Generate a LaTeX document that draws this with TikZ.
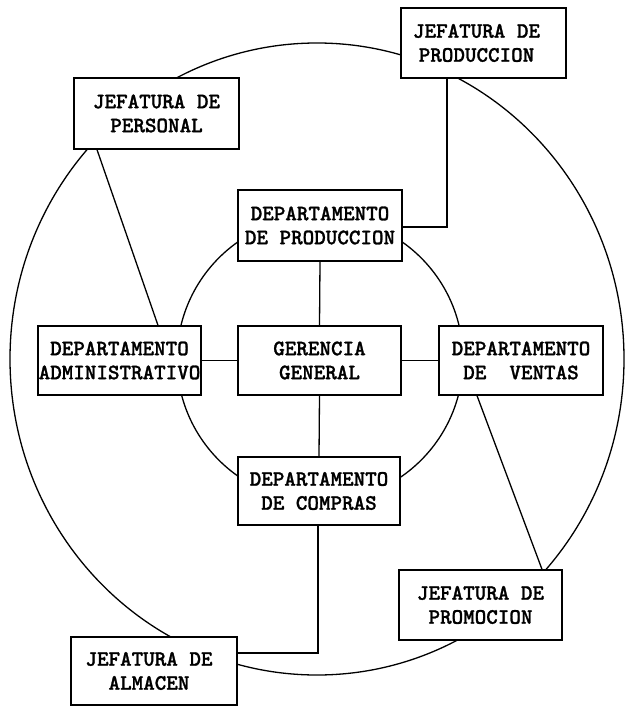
\documentclass[tikz,border=0pt]{standalone}
\usepackage{fontspec}
\newfontfamily\boxfont[FakeBold=1.2]{lmmonolt10-bold.otf}
\begin{document}
\begin{tikzpicture}[x=1pt,y=-1pt,
  box/.style={draw, line width=1.3pt, fill=white, inner sep=0pt, align=center,
    font=\boxfont\fontsize{22}{24}\selectfont},
  link/.style={line width=1.3pt},
  ring/.style={line width=1.3pt}]
\useasboundingbox (0,0) rectangle (624,706);

% the two rings
\draw[ring] (317,359) ellipse [x radius=307pt, y radius=316pt];
\draw[ring] (320,359) circle [radius=143pt];

% offices
\node[box, minimum width=165pt, minimum height=70pt] (jprod) at (483.5,43) {JEFATURA DE\hspace*{14pt}\\PRODUCCION\hspace*{14pt}};
\node[box, minimum width=165pt, minimum height=71pt] (jpers) at (156.5,113.5) {JEFATURA DE\\PERSONAL};
\node[box, minimum width=164pt, minimum height=71pt] (dprod) at (320,225.5) {DEPARTAMENTO\\DE PRODUCCION};
\node[box, minimum width=163pt, minimum height=69pt] (dadm) at (119.5,360.5) {DEPARTAMENTO\\ADMINISTRATIVO};
\node[box, minimum width=163pt, minimum height=69pt] (ger) at (319.5,360.5) {GERENCIA\\GENERAL};
\node[box, minimum width=164pt, minimum height=69pt] (dven) at (521,360.5) {DEPARTAMENTO\\DE\ \ VENTAS};
\node[box, minimum width=162pt, minimum height=68pt] (dcom) at (319,491) {DEPARTAMENTO\\DE COMPRAS};
\node[box, minimum width=163pt, minimum height=70pt] (jprom) at (480.5,605) {JEFATURA DE\\PROMOCION};
\node[box, minimum width=166pt, minimum height=68pt] (jalm) at (154,671) {JEFATURA DE\hspace*{10pt}\\ALMACEN\hspace*{10pt}};

% reference points for the connectors
\coordinate (k1) at (447,227);
\coordinate (k2) at (318,653);
\coordinate (xa) at (97,0);
\coordinate (xb) at (158,0);
\coordinate (xc) at (477,0);
\coordinate (xd) at (542,0);

% connectors
\draw[link] (jprod.south -| k1) |- (dprod.east |- k1);
\draw[link] (jpers.south -| xa) -- (dadm.north -| xb);
\draw[link] (dprod.south) -- (ger.north);
\draw[link] (ger.west) -- (dadm.east);
\draw[link] (ger.east) -- (dven.west);
\draw[link] (ger.south) -- (dcom.north);
\draw[link] (dcom.south -| k2) |- (jalm.east |- k2);
\draw[link] (dven.south -| xc) -- (jprom.north -| xd);
\end{tikzpicture}
\end{document}
